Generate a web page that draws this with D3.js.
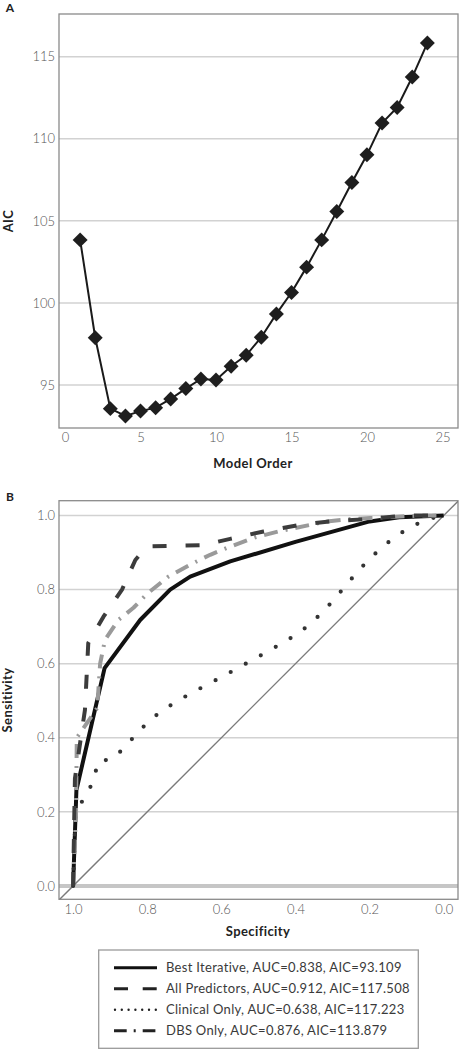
<!DOCTYPE html>
<html><head><meta charset="utf-8">
<script src="https://cdn.jsdelivr.net/npm/d3@7"></script>
<style>body{margin:0;background:#fff}svg{display:block}</style>
</head><body>
<svg id="c" width="459" height="1050"></svg>
<script>
// ---------- Panel A data ----------
const modelOrder = [1,2,3,4,5,6,7,8,9,10,11,12,13,14,15,16,17,18,19,20,21,22,23,24];
const aicValues = [103.84,97.88,93.56,93.11,93.41,93.62,94.15,94.78,95.37,95.30,96.14,96.81,97.91,99.33,100.63,102.18,103.84,105.57,107.34,109.02,110.96,111.91,113.76,115.83];
const aTicksX = [0,5,10,15,20,25];
const aTicksY = [95,100,105,110,115];

// ---------- Panel B data (specificity, sensitivity) ----------
const bestSpec = [1.0,0.991,0.915,0.819,0.738,0.684,0.576,0.40,0.20,0.12,0.0];
const bestSens = [0.0,0.259,0.588,0.718,0.80,0.835,0.876,0.929,0.984,0.995,1.0];
const allSpec = [1.0,0.995,0.968,0.959,0.918,0.868,0.832,0.80,0.65,0.576,0.486,0.387,0.306,0.198,0.108,0.0];
const allSens = [0.0,0.29,0.475,0.656,0.727,0.80,0.88,0.917,0.92,0.937,0.957,0.975,0.984,0.991,1.0,1.0];
const clinSpec = [1.0,0.993,0.961,0.943,0.934,0.891,0.857,0.828,0.794,0.758,0.717,0.677,0.635,0.594,0.554,0.513,0.471,0.432,0.392,0.356,0.321,0.291,0.261,0.23,0.198,0.164,0.128,0.087,0.045,0.0];
const clinSens = [0.0,0.20,0.252,0.288,0.334,0.345,0.378,0.412,0.446,0.475,0.50,0.523,0.545,0.567,0.589,0.612,0.635,0.658,0.682,0.711,0.745,0.779,0.815,0.851,0.885,0.916,0.945,0.97,0.99,1.0];
const dbsSpec = [1.0,0.992,0.99,0.935,0.927,0.914,0.878,0.837,0.801,0.743,0.679,0.63,0.576,0.509,0.446,0.315,0.261,0.198,0.063,0.0];
const dbsSens = [0.0,0.2,0.40,0.48,0.60,0.664,0.718,0.751,0.788,0.835,0.87,0.894,0.916,0.941,0.957,0.984,0.99,0.993,1.0,1.0];
const bTicks = [1.0,0.8,0.6,0.4,0.2,0.0];
const seriesNames = ["Best Iterative, AUC=0.838, AIC=93.109","All Predictors, AUC=0.912, AIC=117.508","Clinical Only, AUC=0.638, AIC=117.223","DBS Only, AUC=0.876, AIC=113.879"];

const svg = d3.select("#c");
const FONT = "Lato, 'Open Sans', sans-serif";
const tickColor = "#555";
const gridColor = "#d2d2d2";
const frameColor = "#8a8a8a";

// ================= Panel A =================
const A = {l:59,r:458,t:14,b:428};
const xA = d3.scaleLinear().domain([-0.4,26.03]).range([A.l,A.r]);
const yA = d3.scaleLinear().domain([92.38,117.6]).range([A.b,A.t]);
const gA = svg.append("g");

gA.append("g").selectAll("line").data(aTicksY).join("line")
  .attr("x1",A.l).attr("x2",A.r).attr("y1",d=>yA(d)).attr("y2",d=>yA(d))
  .attr("stroke",gridColor).attr("stroke-width",1.5);
gA.append("rect").attr("x",A.l).attr("y",A.t).attr("width",A.r-A.l).attr("height",A.b-A.t)
  .attr("fill","none").attr("stroke",frameColor).attr("stroke-width",1.3);

const axAY = d3.axisLeft(yA).tickValues(aTicksY).tickSize(0).tickPadding(4);
gA.append("g").attr("transform",`translate(${A.l},0)`).call(axAY)
  .call(g=>g.select(".domain").remove())
  .selectAll("text").attr("font-family",FONT).attr("font-size",13).attr("font-weight",300).attr("fill",tickColor);
const axAX = d3.axisBottom(xA).tickValues(aTicksX).tickSize(0).tickPadding(5);
gA.append("g").attr("transform",`translate(0,${A.b})`).call(axAX)
  .call(g=>g.select(".domain").remove())
  .selectAll("text").attr("font-family",FONT).attr("font-size",13).attr("font-weight",300).attr("fill",tickColor);

const aPts = modelOrder.map((m,i)=>({x:m,y:aicValues[i]}));
gA.append("path").datum(aPts)
  .attr("d",d3.line().x(d=>xA(d.x)).y(d=>yA(d.y)))
  .attr("fill","none").attr("stroke","#1a1a1a").attr("stroke-width",2);
gA.append("g").selectAll("path").data(aPts).join("path")
  .attr("d",d3.symbol(d3.symbolSquare,112))
  .attr("transform",d=>`translate(${xA(d.x)},${yA(d.y)}) rotate(45)`)
  .attr("fill","#1e1e1e");

svg.append("text").text("A").attr("x",10).attr("y",12).attr("text-anchor","middle")
  .attr("font-family",FONT).attr("font-weight",700).attr("font-size",12).attr("fill","#222");
svg.append("text").text("AIC").attr("transform",`translate(13,${(A.t+A.b)/2}) rotate(-90)`)
  .attr("text-anchor","middle").attr("font-family",FONT).attr("font-weight",700).attr("font-size",13)
  .attr("letter-spacing",0.4).attr("fill","#222");
svg.append("text").text("Model Order").attr("x",253).attr("y",468).attr("text-anchor","middle")
  .attr("font-family",FONT).attr("font-weight",700).attr("font-size",13).attr("letter-spacing",0.45).attr("fill","#222");

// ================= Panel B =================
const B = {l:59,r:458,t:500.7,b:899.3};
const xB = d3.scaleLinear().domain([1.038,-0.0386]).range([B.l,B.r]);
const yB = d3.scaleLinear().domain([-0.036,1.040]).range([B.b,B.t]);
const gB = svg.append("g");
svg.append("clipPath").attr("id","clipB").append("rect")
  .attr("x",B.l).attr("y",B.t).attr("width",B.r-B.l).attr("height",B.b-B.t);

gB.append("g").selectAll("line").data(bTicks.filter(d=>d>0)).join("line")
  .attr("x1",B.l).attr("x2",B.r).attr("y1",d=>yB(d)).attr("y2",d=>yB(d))
  .attr("stroke",gridColor).attr("stroke-width",1.5);
gB.append("line").attr("x1",B.l).attr("x2",B.r).attr("y1",yB(0)).attr("y2",yB(0))
  .attr("stroke","#c6c6c6").attr("stroke-width",4);
gB.append("rect").attr("x",B.l).attr("y",B.t).attr("width",B.r-B.l).attr("height",B.b-B.t)
  .attr("fill","none").attr("stroke",frameColor).attr("stroke-width",1.3);

const axBY = d3.axisLeft(yB).tickValues(bTicks).tickFormat(d3.format(".1f")).tickSize(0).tickPadding(4);
gB.append("g").attr("transform",`translate(${B.l},0)`).call(axBY)
  .call(g=>g.select(".domain").remove())
  .selectAll("text").attr("font-family",FONT).attr("font-size",13).attr("font-weight",300).attr("fill",tickColor);
const axBX = d3.axisBottom(xB).tickValues(bTicks).tickFormat(d3.format(".1f")).tickSize(0).tickPadding(5);
gB.append("g").attr("transform",`translate(0,${B.b})`).call(axBX)
  .call(g=>g.select(".domain").remove())
  .selectAll("text").attr("font-family",FONT).attr("font-size",13).attr("font-weight",300).attr("fill",tickColor);

const plotB = gB.append("g").attr("clip-path","url(#clipB)");
// reference diagonal
plotB.append("line").attr("x1",xB(1.038)).attr("y1",yB(-0.038)).attr("x2",xB(-0.0386)).attr("y2",yB(1.0386))
  .attr("stroke","#7a7a7a").attr("stroke-width",1.4);

const lineBLin = d3.line().x(d=>xB(d[0])).y(d=>yB(d[1]));
const mk = (s,t)=>s.map((v,i)=>[v,t[i]]);
const styles = [
  {data:mk(bestSpec,bestSens), color:"#111", w:4, dash:null, cap:"butt"},
  {data:mk(clinSpec,clinSens), color:"#333", w:4.2, dash:"0,17.2", cap:"round"},
  {data:mk(dbsSpec,dbsSens), color:"#9a9a9a", w:4, dash:"14,8,2,8", cap:"butt"},
  {data:mk(allSpec,allSens), color:"#3c3c3c", w:4, dash:"14,19", cap:"butt"}
];
styles.forEach(s=>{
  plotB.append("path").datum(s.data).attr("d",lineBLin)
    .attr("fill","none").attr("stroke",s.color).attr("stroke-width",s.w)
    .attr("stroke-linecap",s.cap).attr("stroke-linejoin","round")
    .attr("stroke-dasharray",s.dash);
});

svg.append("text").text("B").attr("x",10).attr("y",501).attr("text-anchor","middle")
  .attr("font-family",FONT).attr("font-weight",700).attr("font-size",12).attr("fill","#222");
svg.append("text").text("Sensitivity").attr("transform",`translate(12,${(B.t+B.b)/2}) rotate(-90)`)
  .attr("text-anchor","middle").attr("font-family",FONT).attr("font-weight",700).attr("font-size",13)
  .attr("letter-spacing",0.4).attr("fill","#222");
svg.append("text").text("Specificity").attr("x",258).attr("y",936).attr("text-anchor","middle")
  .attr("font-family",FONT).attr("font-weight",700).attr("font-size",13).attr("letter-spacing",0.4).attr("fill","#222");

// ================= Legend =================
const L = {x:98.7,y:950,w:319.6,h:98.3};
const gL = svg.append("g");
gL.append("rect").attr("x",L.x).attr("y",L.y).attr("width",L.w).attr("height",L.h)
  .attr("fill","#fff").attr("stroke","#9a9a9a").attr("stroke-width",1.3);
const legStyles = [
  {color:"#111", w:3, dash:null, cap:"butt"},
  {color:"#222", w:3, dash:"14,14.7", cap:"butt"},
  {color:"#222", w:2.4, dash:"0,6.8", cap:"round"},
  {color:"#222", w:3, dash:"12.7,7,2,7", cap:"butt"}
];
const rowY = d3.scalePoint().domain(seriesNames).range([967.7,1030.7]);
seriesNames.forEach((n,i)=>{
  const y = rowY(n);
  const st = legStyles[i];
  gL.append("line").attr("x1",i===2?115:114).attr("x2",157).attr("y1",y).attr("y2",y)
    .attr("stroke",st.color).attr("stroke-width",st.w).attr("stroke-linecap",st.cap)
    .attr("stroke-dasharray",st.dash);
  gL.append("text").text(n).attr("x",166).attr("y",y).attr("dy","0.36em")
    .attr("font-family",FONT).attr("font-size",13).attr("font-weight",400)
    .attr("letter-spacing",0.3).attr("fill","#3a3a3a");
});
</script>
</body></html>
